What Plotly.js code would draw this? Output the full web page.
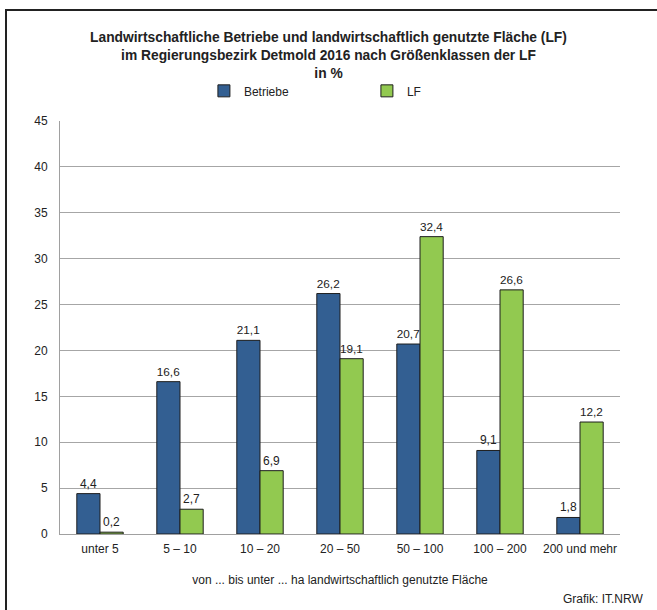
<!DOCTYPE html>
<html><head><meta charset="utf-8">
<script src="https://cdn.plot.ly/plotly-3.0.1.min.js"></script>
<style>
html,body{margin:0;padding:0;background:#fff;overflow:hidden;}
#frame{position:absolute;left:5px;top:9px;width:652px;height:601px;border-left:2px solid #222;border-top:2px solid #222;box-sizing:border-box;}
#chart{position:absolute;left:0;top:0;width:657px;height:610px;}
</style></head>
<body>
<div id="chart"></div>
<div id="frame"></div>
<script>
const categories = ["unter 5","5 – 10","10 – 20","20 – 50","50 – 100","100 – 200","200 und mehr"];
const betriebe = [4.4,16.6,21.1,26.2,20.7,9.1,1.8];
const lf = [0.2,2.7,6.9,19.1,32.4,26.6,12.2];
const fmt = v => v.toFixed(1).replace('.', ',');
const FF = "Liberation Sans, Arial, sans-serif";
const font = {family:FF, size:12, color:"#222"};
const traces = [
 {type:'bar', name:'Betriebe', x:categories, y:betriebe, text:betriebe.map(fmt), textposition:'outside', cliponaxis:false,
  textfont:{family:FF,size:12,color:'#222'},
  marker:{color:'#335f92', line:{color:'#1e1e1e', width:1}}},
 {type:'bar', name:'LF', x:categories, y:lf, text:lf.map(fmt), textposition:'outside', cliponaxis:false,
  textfont:{family:FF,size:12,color:'#222'},
  marker:{color:'#92c950', line:{color:'#1e1e1e', width:1}}}
];
const layout = {
 width:657, height:610, font:font, paper_bgcolor:'rgba(0,0,0,0)', plot_bgcolor:'#fff',
 margin:{l:60, r:37, t:121, b:76},
 title:{text:"<b>Landwirtschaftliche Betriebe und landwirtschaftlich genutzte Fläche (LF)<br>im Regierungsbezirk Detmold 2016 nach Größenklassen der LF<br>in %</b>",
   font:{family:FF, size:13.8, color:'#222'}, x:0.5, xanchor:'center', y:0.931, yanchor:'top'},
 barmode:'group', bargap:0.42, bargroupgap:0,
 showlegend:true,
 legend:{orientation:'h', x:0.257, xanchor:'left', y:1.073, yanchor:'middle', font:{family:FF,size:12,color:'#222'}, itemwidth:30, tracegroupgap:0, entrywidth:118},
 xaxis:{showline:true, linecolor:'#a0a0a0', linewidth:1, ticks:'', ticklabelstandoff:4, tickfont:{family:FF,size:12,color:'#222'},
   title:{text:"von ... bis unter ... ha landwirtschaftlich genutzte Fläche", font:{family:FF,size:12,color:'#222'}, standoff:20}},
 yaxis:{range:[0,45], dtick:5, showgrid:true, gridcolor:'#a6a6a6', gridwidth:1, showline:true, linecolor:'#a0a0a0', linewidth:1,
   zeroline:false, ticks:'', ticklabelstandoff:9, tickfont:{family:FF,size:12,color:'#222'}},
 annotations:[{text:"Grafik: IT.NRW", xref:'paper', yref:'paper', x:1.044, y:-0.157, xanchor:'right', yanchor:'middle', showarrow:false,
   font:{family:FF,size:12,color:'#222'}}]
};
Plotly.newPlot('chart', traces, layout, {displayModeBar:false, staticPlot:true});
</script>
</body></html>
